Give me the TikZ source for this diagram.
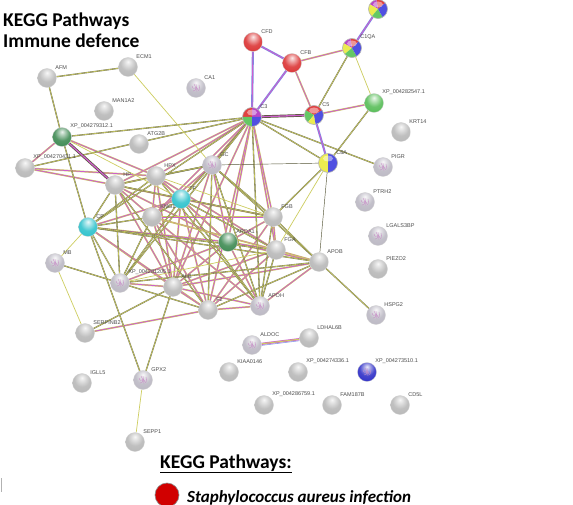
\documentclass[tikz,border=0pt]{standalone}
\usepackage{fontspec}
\setmainfont{Liberation Sans}
\newfontfamily\calibri{Carlito}
\pgfdeclarelayer{bg}
\pgfsetlayers{bg,main}
\definecolor{tm}{RGB}{205,205,95}
\definecolor{co}{RGB}{85,85,55}
\definecolor{ex}{RGB}{205,95,205}
\definecolor{db}{RGB}{120,140,230}
\definecolor{nred}{RGB}{220,55,55}
\definecolor{ndkgreen}{RGB}{65,140,85}
\definecolor{ngreen}{RGB}{90,190,90}
\definecolor{ncyan}{RGB}{50,195,205}
\definecolor{nblue}{RGB}{50,50,200}
\definecolor{ngray}{RGB}{185,185,185}
\definecolor{nlav}{RGB}{188,185,196}
\definecolor{pmag}{RGB}{185,70,200}
\definecolor{pred}{RGB}{225,65,65}
\definecolor{pgreen}{RGB}{100,200,100}
\definecolor{pblue}{RGB}{80,80,225}
\definecolor{pyel}{RGB}{235,235,80}
\colorlet{ballc}{ngray}
\pgfdeclareradialshading[ballc]{sphere}{\pgfpoint{0bp}{14bp}}{%
  color(0bp)=(ballc!10!white); color(7bp)=(ballc!40!white); color(20bp)=(ballc!90!white);
  color(34bp)=(ballc); color(46bp)=(ballc!82!black); color(60bp)=(ballc!65!black); color(80bp)=(ballc!55!black)}
\newcommand\pieseg[4]{\fill[#4] (#1.center) -- ++({-(#2)}:9.5) arc[start angle={-(#2)}, end angle={-(#3)}, radius=9.5] -- cycle;}
\newcommand\piefinish[1]{%
  \fill[white,opacity=0.45] ($(#1.center)+(0,-4.5)$) ellipse (5 and 3);
  \draw[black!30,line width=0.6pt] (#1.center) circle (9.5);}
\usetikzlibrary{calc}
\begin{document}
\begin{tikzpicture}[x=1pt,y=-1pt,
  prot/.style={circle, minimum size=19pt, inner sep=0pt, /utils/exec={\colorlet{ballc}{#1}}, shading=sphere, draw=black!18, line width=0.3pt},
  prot/.default=ngray,
  pnode/.style={circle, minimum size=19pt, inner sep=0pt},
  lab/.style={font=\fontsize{5.5}{6}\selectfont, text=black!70, inner sep=0.3pt, label distance=1.5pt},
  lb/.style={label={[lab]45:#1}},
  ey/.style={draw=tm, line width=0.7pt},
  ep/.style={draw=tm, line width=0.45pt, double=ex, double distance=0.8pt},
  ek/.style={draw=co!85, line width=0.35pt, double=tm, double distance=0.6pt},
  kd/.style={draw=co, line width=0.45pt},
  eb/.style={draw=db, line width=0.6pt, double=ex, double distance=0.9pt},
  eh/.style={draw=co, line width=0.7pt, double=ex, double distance=1.3pt},
  scrib/.pic={\draw[violet!45, line width=0.35pt] (-4,-2) .. controls (-2,4) and (0,-4) .. (2,2) .. controls (3,4) and (4,0) .. (3,-3) (-2,-4) .. controls (0,-1) and (1,3) .. (-3,3) (0,-4) .. controls (2,-1) and (-1,1) .. (1,4);}
]
\useasboundingbox (0,0) rectangle (573,505);

% ---------- nodes ----------
\node[prot, lb=AFM] (AFM) at (47,78) {};
\node[prot, lb=ECM1] (ECM1) at (128,67) {};
\node[prot=nlav, lb=CA1] (CA1) at (196,88) {};
\node[prot, lb=MAN1A2] (MAN) at (104,111) {};
\node[prot=ndkgreen, lb=XP\_004279312.1] (XPA) at (62,137) {};
\node[prot, lb=ATG2B] (ATG) at (139,144) {};
\node[prot, lb=XP\_004270431.1] (XPC) at (25,168) {};
\node[prot, lb=HP] (HP) at (115,185) {};
\node[prot, lb=HPX] (HPX) at (156,176) {};
\node[prot=nlav, lb=GC] (GC) at (212,165) {};
\node[prot=ncyan, lb=TF] (TF) at (181,199) {};
\node[prot, lb=KNG1] (KNG) at (152,217) {};
\node[prot=ncyan, lb=CP] (CP) at (88,227) {};
\node[prot=nred, lb=CFD] (CFD) at (253,42) {};
\node[prot=nred, lb=CFB] (CFB) at (292,63) {};
\node[pnode, lb=C1QA] (C1QA) at (352,48) {};
\node[pnode] (TOP) at (378,9) {};
\node[pnode, lb=C3] (C3) at (252,117) {};
\node[pnode, lb=C5] (C5) at (314,115) {};
\node[prot=ngreen, lb=XP\_004282547.1] (XPG) at (374,103) {};
\node[prot, lb=KRT14] (KRT) at (401,132) {};
\node[pnode, lb=C8A] (C8A) at (328,163) {};
\node[prot=nlav, lb=PIGR] (PIGR) at (383,167) {};
\node[prot=nlav, lb=PTRH2] (PTRH) at (365,202) {};
\node[prot, lb=FGB] (FGB) at (273,217) {};
\node[prot=ndkgreen, lb=APOA1] (APOA) at (228,242) {};
\node[prot, lb=FGA] (FGA) at (276,250) {};
\node[prot, lb=APOB] (APOB) at (319,262) {};
\node[prot=nlav, lb=LGALS3BP] (LGAL) at (378,236) {};
\node[prot, lb=PIEZO2] (PIEZ) at (378,269) {};
\node[prot=nlav, lb=MB] (MB) at (55,263) {};
\node[prot=nlav, lb=XP\_004281205.1] (XPB) at (120,283) {};
\node[prot, lb=ALB] (ALB) at (173,287) {};
\node[prot, lb=F2] (F2) at (208,310) {};
\node[prot=nlav, lb=APOH] (APOH) at (260,306) {};
\node[prot=nlav, lb=HSPG2] (HSPG) at (376,315) {};
\node[prot, lb=SERPINB2] (SERP) at (85,333) {};
\node[prot=nlav, lb=ALDOC] (ALDOC) at (252,345) {};
\node[prot, lb=LDHAL6B] (LDH) at (309,338) {};
\node[prot, lb=KIAA0146] (KIAA) at (229,372) {};
\node[prot, lb=XP\_004274336.1] (XPD) at (298,372) {};
\node[prot=nblue, lb=XP\_004273510.1] (XPE) at (367,372) {};
\node[prot, lb=IGLL5] (IGLL) at (82,383) {};
\node[prot=nlav, lb=GPX2] (GPX2) at (143,380) {};
\node[prot, lb=XP\_004286759.1] (XPF) at (264,405) {};
\node[prot, lb=FAM187B] (FAM) at (332,405) {};
\node[prot, lb=CD5L] (CD5L) at (400,405) {};
\node[prot, lb=SEPP1] (SEPP) at (135,442) {};

% multi-coloured nodes
\pieseg{C3}{0}{90}{pmag}\pieseg{C3}{90}{180}{pred}\pieseg{C3}{180}{270}{pgreen}\pieseg{C3}{270}{360}{pblue}\piefinish{C3}
\pieseg{C5}{30}{150}{pred}\pieseg{C5}{150}{230}{pgreen}\pieseg{C5}{230}{280}{pyel}\pieseg{C5}{280}{390}{pblue}\piefinish{C5}
\pieseg{C1QA}{45}{100}{pred}\pieseg{C1QA}{100}{150}{pmag}\pieseg{C1QA}{150}{220}{pyel}\pieseg{C1QA}{220}{300}{pgreen}\pieseg{C1QA}{300}{405}{pblue}\piefinish{C1QA}
\pieseg{TOP}{40}{100}{pred}\pieseg{TOP}{100}{150}{pmag}\pieseg{TOP}{150}{230}{pyel}\pieseg{TOP}{230}{300}{pgreen}\pieseg{TOP}{300}{400}{pblue}\piefinish{TOP}
\pieseg{C8A}{90}{270}{pyel}\pieseg{C8A}{270}{450}{pblue}\piefinish{C8A}

% structure scribbles
\foreach \n in {CA1,GC,PIGR,PTRH,LGAL,MB,XPB,APOH,HSPG,ALDOC,GPX2,XPE} \pic at (\n) {scrib};

% ---------- edges ----------
\begin{pgfonlayer}{bg}
\fill[white] (0,0) rectangle (573,505);
\foreach \a/\b in {HP/HPX,HP/TF,HP/KNG,HP/ALB,HP/APOA,HP/C3,HPX/TF,HPX/KNG,HPX/C3,HPX/ALB,HPX/APOA,HPX/FGA,TF/ALB,TF/APOA,TF/C3,TF/F2,TF/FGB,KNG/F2,KNG/ALB,KNG/FGA,KNG/FGB,KNG/APOH,CP/TF,CP/ALB,CP/APOA,CP/F2,ALB/APOA,ALB/F2,ALB/APOH,ALB/FGA,ALB/APOB,APOA/APOB,APOA/FGA,APOA/FGB,APOA/APOH,F2/FGA,F2/FGB,F2/APOH,FGA/FGB,FGA/APOB,APOH/APOB,XPB/ALB,XPB/APOA,GC/ALB,GC/APOA,GC/KNG,C3/ALB,C3/APOA,C3/FGB,C3/FGA,C3/F2,C3/KNG,XPA/HPX,XPC/HPX,XPC/HP,XPA/XPC,SERP/F2,CFB/C5,CFB/C1QA,C5/XPG}
  \draw[ep] (\a) -- (\b);
\foreach \a/\b in {HP/CP,HP/FGB,HP/GC,HPX/GC,HPX/CP,TF/GC,TF/KNG,CP/KNG,CP/XPB,CP/APOB,XPB/F2,XPB/APOB,XPB/KNG,XPB/TF,XPB/HP,GC/APOB,GC/FGB,GC/F2,GC/APOH,FGB/APOB,FGB/APOH,F2/APOB,APOH/FGA,HP/F2,HPX/APOH,TF/APOH,C3/GC,C3/CP,C3/XPB,C3/APOH,AFM/ECM1,AFM/XPA,XPA/CP,SERP/ALB,MB/XPB,GPX2/CP,GPX2/ALB,APOB/HSPG,C8A/FGB,XPG/C8A,C1QA/C5,C3/C8A,C3/PIGR,XPA/C3,XPC/C3,CP/FGA,TF/FGA}
  \draw[ek] (\a) -- (\b);
\foreach \a/\b in {ECM1/GC,MB/SERP,MB/CP,GPX2/SEPP,C1QA/XPG,C8A/FGA,XPA/TF,HPX/FGB,KNG/APOB,XPB/FGA}
  \draw[ey] (\a) -- (\b);
\foreach \a/\b in {GC/C8A,C8A/APOB}
  \draw[kd] (\a) -- (\b);
\foreach \a/\b in {CFD/CFB,CFD/C3,CFB/C3,C5/C8A,C1QA/TOP}
  \draw[eb] (\a) -- (\b);
\foreach \a/\b in {C3/C5,XPA/HP}
  \draw[eh] (\a) -- (\b);
\draw[draw=ex, line width=0.6pt, double=tm, double distance=1pt] (ALDOC) -- (LDH);
\draw[db, line width=0.5pt, transform canvas={yshift=-1.6pt}] (ALDOC) -- (LDH);
\end{pgfonlayer}

% ---------- titles and legend ----------
\node[anchor=base west, inner sep=0pt, font=\calibri\bfseries\fontsize{19.5}{22}\selectfont] (t1) at (3,27) {KEGG Pathways};
\node[anchor=base west, inner sep=0pt, font=\calibri\bfseries\fontsize{19.5}{22}\selectfont] (t2) at (3,48) {Immune defence};
\node[anchor=base west, inner sep=0pt, font=\calibri\bfseries\fontsize{19.5}{22}\selectfont] (lt) at (160,468) {\underline{KEGG Pathways:}};
\node[circle, minimum size=24pt, inner sep=0pt, fill=red!82!black, draw=black!45, line width=0.6pt] (ld) at (167,495) {};
\node[anchor=base west, inner sep=0pt, font=\calibri\bfseries\itshape\fontsize{17}{20}\selectfont] (lx) at (187,502) {Staphylococcus aureus infection};
\draw[gray!60, line width=1.5pt] (1.5,478) -- (1.5,492);
\end{tikzpicture}
\end{document}
